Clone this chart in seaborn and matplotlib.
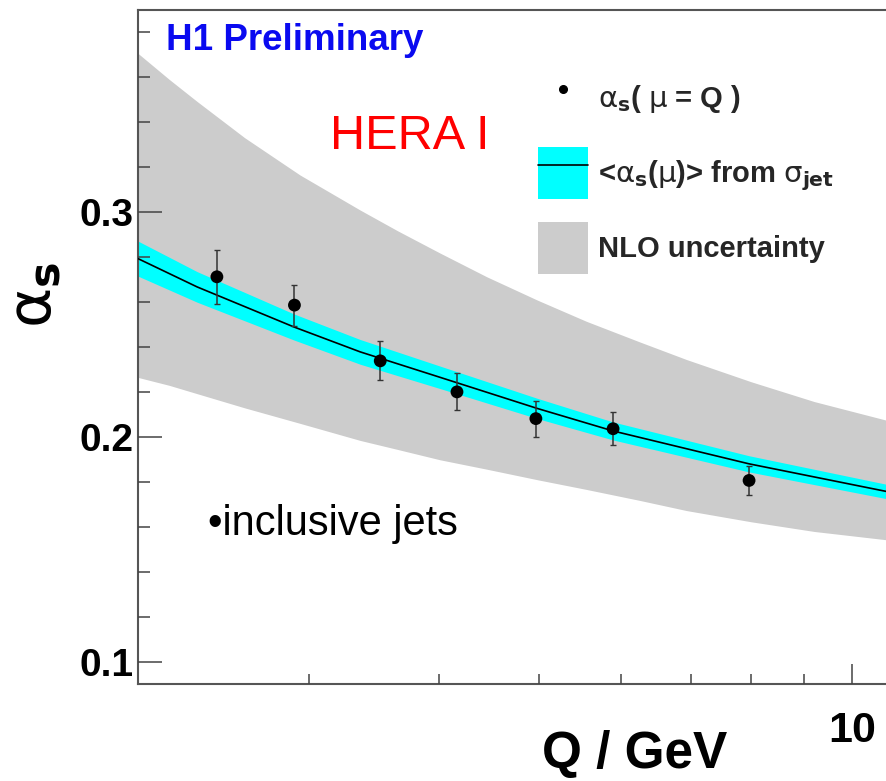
import matplotlib
matplotlib.use("Agg")
import matplotlib.pyplot as plt
import seaborn as sns
import pandas as pd
from matplotlib.lines import Line2D
from matplotlib.patches import Patch
from matplotlib.ticker import FixedLocator, FixedFormatter, NullFormatter

# ---------------- data ----------------
q_points = [2.445, 2.904, 3.513, 4.165, 4.962, 5.889, 7.963]
alpha_points = [0.2713, 0.2587, 0.2339, 0.2201, 0.2082, 0.2037, 0.1807]
alpha_errors = [0.0120, 0.0091, 0.0087, 0.0082, 0.0080, 0.0073, 0.0063]

q_curve = [2.05, 2.34, 2.90, 3.36, 4.01, 4.98, 5.89, 7.96, 10.8]
alpha_curve = [0.2795, 0.2668, 0.2490, 0.2379, 0.2266, 0.2127, 0.2027, 0.1881, 0.1758]
alpha_curve_hi = [0.2873, 0.2736, 0.2548, 0.2434, 0.2316, 0.2172, 0.2067, 0.1917, 0.1790]
alpha_curve_lo = [0.2717, 0.2600, 0.2432, 0.2324, 0.2216, 0.2082, 0.1987, 0.1845, 0.1726]

q_nlo = [2.05, 2.20, 2.34, 2.60, 2.94, 3.36, 3.65, 4.01, 4.45, 4.98,
         5.55, 6.25, 6.93, 8.0, 9.2, 10.8]
nlo_hi = [0.3709, 0.3591, 0.3493, 0.3332, 0.3166, 0.3010, 0.2918, 0.2819, 0.2713, 0.2609,
          0.2515, 0.2423, 0.2345, 0.2246, 0.2158, 0.2075]
nlo_lo = [0.2266, 0.2230, 0.2193, 0.2130, 0.2061, 0.1985, 0.1945, 0.1899, 0.1857, 0.1810,
          0.1767, 0.1718, 0.1673, 0.1623, 0.1580, 0.1543]

y_major = [0.1, 0.2, 0.3]
y_major_labels = ["0.1", "0.2", "0.3"]
y_minor = [0.12, 0.14, 0.16, 0.18, 0.22, 0.24, 0.26, 0.28, 0.32, 0.34, 0.36, 0.38]
x_major = [10]
x_major_labels = ["10"]
x_minor = [3, 4, 5, 6, 7, 8, 9]

# ---------------- style ----------------
sns.set_theme(style="ticks")
plt.rcParams["font.family"] = ["Liberation Sans", "DejaVu Sans"]
plt.rcParams["mathtext.fontset"] = "dejavusans"

W, H = 886, 781
fig = plt.figure(figsize=(W / 100, H / 100), dpi=100)
ax_l, ax_r, ax_t, ax_b = 137.7, 886.0, 10.0, 684.3
ax = fig.add_axes([ax_l / W, 1 - ax_b / H, (ax_r - ax_l) / W, (ax_b - ax_t) / H])

GRAY = "#cccccc"
CYAN = "#00ffff"

df_pts = pd.DataFrame({"Q": q_points, "alpha": alpha_points, "err": alpha_errors})
df_curve = pd.DataFrame({"Q": q_curve, "alpha": alpha_curve})

ax.fill_between(q_nlo, nlo_lo, nlo_hi, color=GRAY, linewidth=0, zorder=1)
ax.fill_between(q_curve, alpha_curve_lo, alpha_curve_hi, color=CYAN, linewidth=0, zorder=1.2)
sns.lineplot(data=df_curve, x="Q", y="alpha", color="black", linewidth=1.2,
             estimator=None, sort=True, ax=ax, zorder=3)
ax.errorbar(df_pts["Q"], df_pts["alpha"], yerr=df_pts["err"], fmt="none",
            ecolor="#333333", elinewidth=1.1, capsize=2.5, capthick=1.0, zorder=4)
sns.scatterplot(data=df_pts, x="Q", y="alpha", color="black", s=85,
                edgecolor="none", ax=ax, zorder=5)

ax.set_xscale("log")
ax.set_xlim(2.051, 10.79)
ax.set_ylim(0.09, 0.39)

ax.xaxis.set_major_locator(FixedLocator(x_major))
ax.xaxis.set_major_formatter(FixedFormatter(x_major_labels))
ax.xaxis.set_minor_locator(FixedLocator(x_minor))
ax.xaxis.set_minor_formatter(NullFormatter())
ax.yaxis.set_major_locator(FixedLocator(y_major))
ax.yaxis.set_major_formatter(FixedFormatter(y_major_labels))
ax.yaxis.set_minor_locator(FixedLocator(y_minor))

tick_col = "#444444"
ax.tick_params(axis="y", which="major", direction="in", length=17, width=1.1,
               color=tick_col, pad=3, labelsize=28, labelcolor="black")
ax.tick_params(axis="y", which="minor", direction="in", length=8.6, width=1.1,
               color=tick_col)
ax.tick_params(axis="x", which="major", direction="in", length=14.4, width=1.1,
               color=tick_col, pad=19, labelsize=31, labelcolor="black")
ax.tick_params(axis="x", which="minor", direction="in", length=7.2, width=1.1,
               color=tick_col)
for lab in ax.get_xticklabels() + ax.get_yticklabels():
    lab.set_fontweight("bold")
ax.set_axisbelow(False)

for side in ["left", "bottom", "top"]:
    ax.spines[side].set_color("#555555")
    ax.spines[side].set_linewidth(1.5)
ax.spines["right"].set_visible(False)

# axis labels
ax.set_xlabel("Q / GeV", fontsize=37, fontweight="bold", color="black")
ax.xaxis.label.set_va("baseline")
ax.xaxis.label.set_ha("center")
ax.xaxis.set_label_coords((634.5 - ax_l) / (ax_r - ax_l), -(768 - ax_b) / (ax_b - ax_t))

ax.set_ylabel(r"$\mathrm{\alpha}_{\mathbf{s}}$", fontsize=44, color="black")
ax.yaxis.label.set_va("center")
ax.yaxis.set_label_coords((36 - ax_l) / (ax_r - ax_l), 1 - (295 - ax_t) / (ax_b - ax_t))

# annotations
def axc(px, py):
    return ((px - ax_l) / (ax_r - ax_l), 1 - (py - ax_t) / (ax_b - ax_t))

ax.text(*axc(166, 50), "H1 Preliminary", transform=ax.transAxes, color="#0a0af0",
        fontsize=26.5, fontweight="bold", ha="left", va="baseline")
ax.text(*axc(330, 149), "HERA I", transform=ax.transAxes, color="#ff0000",
        fontsize=35, ha="left", va="baseline")
ax.text(*axc(208, 535), "\u2022inclusive jets", transform=ax.transAxes, color="black",
        fontsize=30, ha="left", va="baseline")

# legend
handles = [
    Line2D([], [], marker="o", color="black", linestyle="none", markersize=5.5),
    (Patch(facecolor=CYAN, edgecolor="none"), Line2D([], [], color="black", linewidth=1.2)),
    Patch(facecolor=GRAY, edgecolor="none"),
]
labels = [
    r"$\mathrm{\alpha}_{\mathbf{s}}$( $\mathrm{\mu}$ = Q )",
    r"<$\mathrm{\alpha}_{\mathbf{s}}$($\mathrm{\mu}$)> from $\mathrm{\sigma}_{\mathbf{jet}}$",
    "NLO uncertainty",
]
leg = ax.legend(handles, labels, loc="upper left", bbox_to_anchor=axc(538, 72),
                frameon=False, borderpad=0, borderaxespad=0,
                prop={"size": 21, "weight": "bold"},
                handlelength=1.714, handleheight=2.366, handletextpad=0.34,
                labelspacing=0.79)

fig.savefig("out.png", dpi=100)
